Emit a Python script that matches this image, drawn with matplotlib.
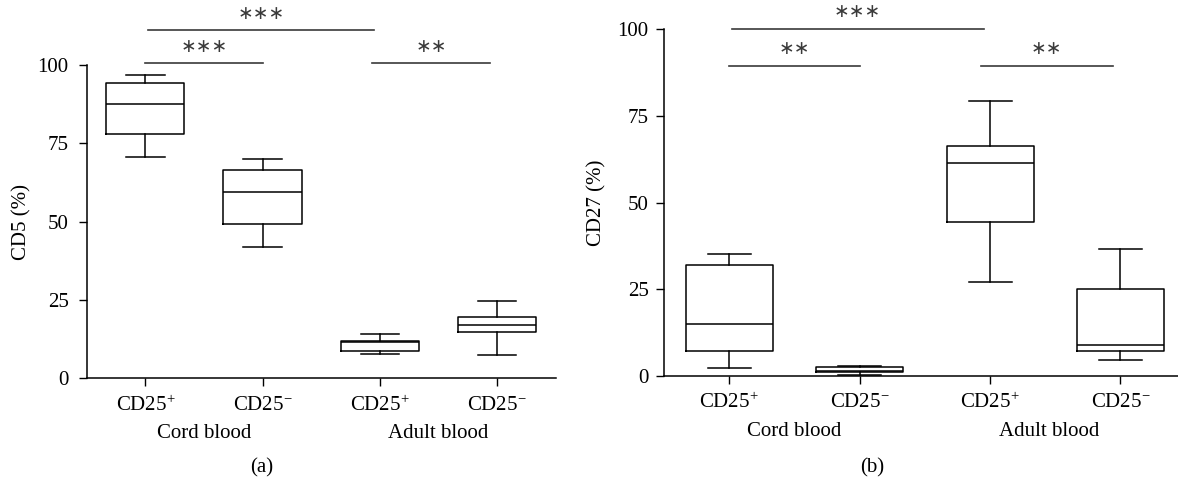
import numpy as np
import matplotlib
matplotlib.use('Agg')
import matplotlib.pyplot as plt

plt.rcParams['font.family'] = ['Liberation Serif', 'DejaVu Serif']
plt.rcParams['mathtext.fontset'] = 'custom'
plt.rcParams['mathtext.rm'] = 'Liberation Serif'
plt.rcParams['mathtext.it'] = 'Liberation Serif:italic'

# ---- data
groups = ['Cord blood', 'Adult blood']
tick_labels = [r'CD25$^{+}$', r'CD25$^{-}$', r'CD25$^{+}$', r'CD25$^{-}$']

# CD5 (%)  -- whisker low, Q1, median, Q3, whisker high
cd5_low = [70.6, 42.0, 7.7, 7.5]
cd5_q1 = [78.1, 49.2, 8.7, 14.7]
cd5_med = [87.5, 59.6, 11.5, 17.1]
cd5_q3 = [94.3, 66.5, 12.0, 19.5]
cd5_high = [96.7, 70.0, 14.2, 24.8]

# CD27 (%)
cd27_low = [2.3, 0.3, 27.0, 4.7]
cd27_q1 = [7.3, 1.05, 44.4, 7.3]
cd27_med = [15.1, 1.5, 61.3, 9.0]
cd27_q3 = [32.1, 2.5, 66.4, 25.2]
cd27_high = [35.3, 3.0, 79.4, 36.7]

# significance bars: (x0, x1, level, stars)
sig_a = [(0.0, 1.0, 100.7, '***'), (0.02, 1.95, 111.2, '***'), (1.93, 2.94, 100.7, '**')]
sig_b = [(0.0, 1.0, 89.5, '**'), (0.02, 1.95, 100.0, '***'), (1.93, 2.94, 89.5, '**')]

FS = 15


def make_stats(low, q1, med, q3, high):
    return [dict(whislo=a, q1=b, med=c, q3=d, whishi=e, fliers=[])
            for a, b, c, d, e in zip(low, q1, med, q3, high)]


def draw_panel(ax, stats, ylabel, sigs, pad, label_x, ylabelpad):
    lp = dict(color='black', linewidth=1.1)
    ax.bxp(stats, positions=range(4), widths=0.667, showfliers=False,
           boxprops=lp, whiskerprops=lp, capprops=lp,
           medianprops=dict(color='black', linewidth=1.1), capwidths=0.33)
    ax.set_xlim(-0.5, 3.5)
    ax.set_ylim(0, 100)
    ax.set_yticks([0, 25, 50, 75, 100])
    ax.set_xticks(range(4))
    ax.set_xticklabels(tick_labels, fontsize=FS)
    ax.tick_params(axis='y', labelsize=FS, length=6, width=1, pad=pad)
    ax.tick_params(axis='x', length=6, width=1, pad=6.5)
    for s in ['top', 'right']:
        ax.spines[s].set_visible(False)
    for s in ['left', 'bottom']:
        ax.spines[s].set_linewidth(1.1)
    ax.set_ylabel(ylabel, fontsize=FS, labelpad=ylabelpad)

    for x0, x1, lev, stars in sigs:
        ax.plot([x0, x1], [lev, lev], color='#3a3a3a', lw=1.2, clip_on=False)
        ax.text((x0 + x1) / 2, lev + 2.3, '\u2217' * len(stars), ha='center', va='bottom',
                fontsize=13.5, color='#3a3a3a', family=['DejaVu Sans'])

    # group labels under the tick labels
    ax.annotate(groups[0], xy=(0.5, 0), xycoords=('data', 'axes fraction'),
                xytext=(0, -40), textcoords='offset points', ha='center', va='center',
                fontsize=FS)
    ax.annotate(groups[1], xy=(label_x, 0), xycoords=('data', 'axes fraction'),
                xytext=(0, -40), textcoords='offset points', ha='center', va='center',
                fontsize=FS)


fig = plt.figure(figsize=(11.78, 4.86), dpi=100)
ax_a = fig.add_axes([0.0736, 0.2216, 0.3982, 0.6447])
ax_b = fig.add_axes([0.5637, 0.2263, 0.4428, 0.7134])

draw_panel(ax_a, make_stats(cd5_low, cd5_q1, cd5_med, cd5_q3, cd5_high), 'CD5 (%)', sig_a, 7, 2.5, 4)
draw_panel(ax_b, make_stats(cd27_low, cd27_q1, cd27_med, cd27_q3, cd27_high), 'CD27 (%)', sig_b, 5, 2.45, 8)

fig.text(262 / 1178, 1 - 468 / 486, '(a)', ha='center', va='center', fontsize=FS)
fig.text(872 / 1178, 1 - 468 / 486, '(b)', ha='center', va='center', fontsize=FS)

fig.savefig('out.png', dpi=100)
